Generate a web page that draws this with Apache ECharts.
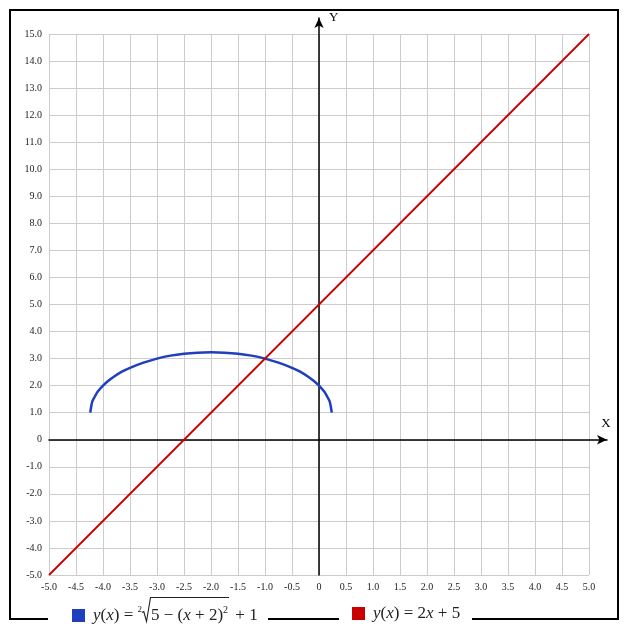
<!DOCTYPE html>
<html>
<head>
<meta charset="utf-8">
<script src="https://cdn.jsdelivr.net/npm/echarts@6/dist/echarts.min.js"></script>
<style>
html,body{margin:0;padding:0;background:#fff;}
#chart{width:627px;height:630px;}
</style>
</head>
<body>
<div id="chart"></div>
<script>
// Values
const circleX = [-4.236, -4.2, -4.15, -4.1, -4.0, -3.9, -3.8, -3.65, -3.5, -3.25, -3.0, -2.75, -2.5, -2.25, -2.0, -1.75, -1.5, -1.25, -1.0, -0.75, -0.5, -0.35, -0.2, -0.1, 0.0, 0.1, 0.15, 0.2, 0.236];
const circleY = [1.0, 1.4, 1.6, 1.77, 2.0, 2.18, 2.33, 2.52, 2.66, 2.85, 3.0, 3.11, 3.18, 3.22, 3.236, 3.22, 3.18, 3.11, 3.0, 2.85, 2.66, 2.52, 2.33, 2.18, 2.0, 1.77, 1.6, 1.4, 1.0];
const lineX = [-5, -2.5, 0, 5];
const lineY = [-5, 0, 5, 15];
const xRange = [-5, 5];
const yRange = [-5, 15];
const seriesNames = ['blue', 'red'];

const circleData = circleX.map((x, i) => [x, circleY[i]]);
const lineData = lineX.map((x, i) => [x, lineY[i]]);

const tickFmt = v => (Math.abs(v) < 1e-9 ? '0' : v.toFixed(1));
const labelFont = {fontFamily: 'Liberation Serif', fontSize: 10, color: '#222'};
const gridColor = '#cccccc';

const FS = 17;
const FF = 'Liberation Serif';
const TXT = '#222';
const RAD_W = 9;
const TPAD = 3;
const rich = {
  i: {fontFamily: FF, fontStyle: 'italic', fontSize: FS, color: TXT},
  n: {fontFamily: FF, fontSize: FS, color: TXT},
  idx: {fontFamily: FF, fontSize: 9, color: TXT, padding: [0, 0, 12, 0]},
  sp: {fontFamily: FF, fontSize: FS, width: RAD_W},
  sup: {fontFamily: FF, fontSize: 10, color: TXT, padding: [0, 0, 10, 0]},
  gap: {fontFamily: FF, fontSize: FS, width: 3}
};

// measure token widths to place the radical sign
const cv = document.createElement('canvas').getContext('2d');
function tw(style, s) {
  const st = rich[style];
  cv.font = (st.fontStyle === 'italic' ? 'italic ' : '') + st.fontSize + 'px ' + st.fontFamily;
  return cv.measureText(s).width;
}
const LEG_TOP = 605, ICON = 13;
const textX0 = 72 + ICON + 5 + TPAD;
const preW = tw('i', 'y') + tw('n', '(') + tw('i', 'x') + tw('n', ') = ') + tw('idx', '2');
const radX = textX0 + preW;
const underW = tw('n', '5 − (') + tw('i', 'x') + tw('n', ' + 2)') + tw('sup', '2');
const vEnd = radX + RAD_W + underW + 1;
const base = LEG_TOP + ICON / 2 + 6;

const chart = echarts.init(document.getElementById('chart'), null, {renderer: 'canvas'});
chart.setOption({
  animation: false,
  backgroundColor: '#fff',
  grid: [
    {left: 49, top: 34, width: 540, height: 541},
    {left: 49, top: 18, width: 558, height: 557}
  ],
  xAxis: [
    {
      type: 'value', gridIndex: 0, min: xRange[0], max: xRange[1], interval: 0.5,
      axisLine: {show: false}, axisTick: {show: false},
      axisLabel: Object.assign({formatter: tickFmt, margin: 7}, labelFont),
      splitLine: {show: true, lineStyle: {color: gridColor, width: 1}}
    },
    {
      type: 'value', gridIndex: 1, min: -5, max: 5 + 18 / 54,
      axisLine: {show: true, onZero: true, symbol: ['none', 'arrow'], symbolSize: [7, 10],
        lineStyle: {color: '#000', width: 1.5}},
      axisTick: {show: false}, axisLabel: {show: false}, splitLine: {show: false},
      name: 'X', nameLocation: 'end', nameGap: -1,
      nameTextStyle: {fontFamily: 'Liberation Serif', fontSize: 13, color: '#000',
        align: 'center', verticalAlign: 'bottom', padding: [0, 0, 10, 0]}
    }
  ],
  yAxis: [
    {
      type: 'value', gridIndex: 0, min: yRange[0], max: yRange[1], interval: 1,
      axisLine: {show: false}, axisTick: {show: false},
      axisLabel: Object.assign({formatter: tickFmt, margin: 7}, labelFont),
      splitLine: {show: true, lineStyle: {color: gridColor, width: 1}}
    },
    {
      type: 'value', gridIndex: 1, min: -5, max: -5 + 557 / 27.05,
      axisLine: {show: true, onZero: true, symbol: ['none', 'arrow'], symbolSize: [7, 10],
        lineStyle: {color: '#000', width: 1.5}},
      axisTick: {show: false}, axisLabel: {show: false}, splitLine: {show: false},
      name: 'Y', nameLocation: 'end', nameGap: 0,
      nameTextStyle: {fontFamily: 'Liberation Serif', fontSize: 13, color: '#000',
        align: 'left', verticalAlign: 'middle', padding: [0, 0, 0, 10]}
    }
  ],
  legend: [
    {
      data: [seriesNames[0]], left: 72, top: LEG_TOP, padding: 0,
      icon: 'rect', itemWidth: ICON, itemHeight: ICON, itemGap: 0,
      formatter: () => '{i|y}{n|(}{i|x}{n|) = }{idx|2}{sp| }{n|5 − (}{i|x}{n| + 2)}{sup|2}{gap| }{n| + 1}',
      textStyle: {rich: rich, padding: [0, 0, 0, TPAD]}
    },
    {
      data: [seriesNames[1]], left: 352, top: LEG_TOP, padding: 0,
      icon: 'rect', itemWidth: ICON, itemHeight: ICON, itemGap: 0,
      formatter: () => '{i|y}{n|(}{i|x}{n|) = 2}{i|x}{n| + 5}',
      textStyle: {rich: rich, padding: [0, 0, 0, TPAD]}
    }
  ],
  series: [
    {
      name: seriesNames[0], type: 'line', xAxisIndex: 0, yAxisIndex: 0,
      data: circleData, smooth: 0.3, showSymbol: false, symbol: 'none',
      lineStyle: {color: '#1f3fbf', width: 2.5}, itemStyle: {color: '#1f3fbf'}, z: 5
    },
    {
      name: seriesNames[1], type: 'line', xAxisIndex: 0, yAxisIndex: 0,
      data: lineData, showSymbol: false, symbol: 'none',
      lineStyle: {color: '#c80000', width: 1.8}, itemStyle: {color: '#c80000'}, z: 6
    }
  ],
  graphic: [
    {type: 'polyline', silent: true, z: 100,
      shape: {points: [[48, 619], [10, 619], [10, 10], [618, 10], [618, 619], [472, 619]]},
      style: {stroke: '#000', lineWidth: 2, fill: null}},
    {type: 'line', silent: true, z: 100,
      shape: {x1: 268, y1: 619, x2: 339, y2: 619},
      style: {stroke: '#000', lineWidth: 2}},
    {type: 'polyline', silent: true, z: 100,
      shape: {points: [[radX, base - 5], [radX + 1.8, base - 6], [radX + 4.5, base + 4], [radX + 8.5, base - 20], [vEnd, base - 20]]},
      style: {stroke: TXT, lineWidth: 1.1, fill: null, lineJoin: 'miter'}}
  ]
});
</script>
</body>
</html>
